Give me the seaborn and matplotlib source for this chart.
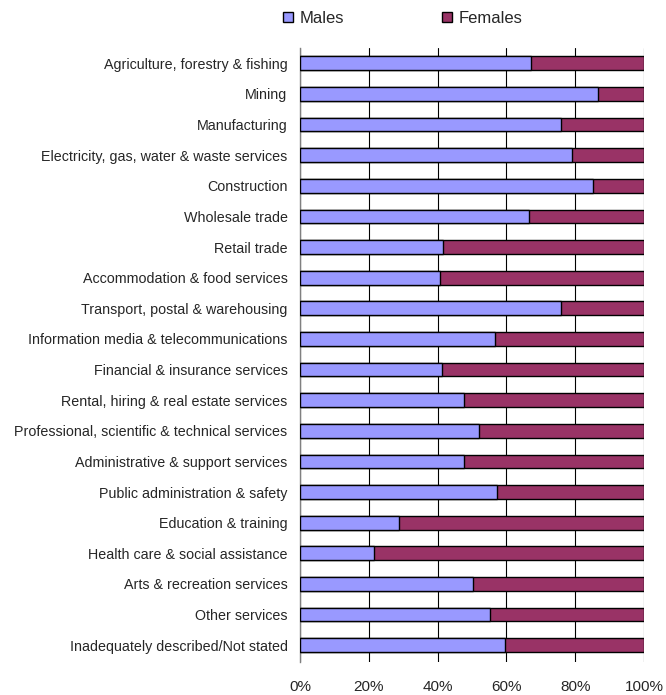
import pandas as pd
import seaborn as sns
import matplotlib.pyplot as plt

industries = [
    'Agriculture, forestry & fishing', 'Mining', 'Manufacturing',
    'Electricity, gas, water & waste services', 'Construction',
    'Wholesale trade', 'Retail trade', 'Accommodation & food services',
    'Transport, postal & warehousing', 'Information media & telecommunications',
    'Financial & insurance services', 'Rental, hiring & real estate services',
    'Professional, scientific & technical services',
    'Administrative & support services', 'Public administration & safety',
    'Education & training', 'Health care & social assistance',
    'Arts & recreation services', 'Other services',
    'Inadequately described/Not stated',
]
males = [67.0, 86.7, 75.8, 79.0, 85.2, 66.7, 41.7, 40.8, 75.8, 56.6,
         41.2, 47.7, 52.1, 47.7, 57.2, 28.8, 21.4, 50.3, 55.3, 59.5]
females = [100 - m for m in males]
x_ticks = [0, 20, 40, 60, 80, 100]
x_labels = ['0%', '20%', '40%', '60%', '80%', '100%']

MALE_COLOR = '#9999FF'
FEMALE_COLOR = '#993366'


def main():
    df = pd.DataFrame({'Industry': industries, 'Males': males, 'Females': females})
    df['Total'] = df['Males'] + df['Females']

    sns.set_style('white')
    plt.rcParams['font.family'] = ['Liberation Sans', 'DejaVu Sans']

    fig = plt.figure(figsize=(6.66, 6.95), dpi=100)
    ax = fig.add_axes([0.4505, 0.0475, 0.5165, 0.8835])

    sns.barplot(data=df, y='Industry', x='Total', color=FEMALE_COLOR,
                edgecolor='black', linewidth=1, width=0.45, saturation=1,
                label='Females', ax=ax, zorder=3)
    sns.barplot(data=df, y='Industry', x='Males', color=MALE_COLOR,
                edgecolor='black', linewidth=1, width=0.45, saturation=1,
                label='Males', ax=ax, zorder=4)

    ax.set_xlim(0, 100)
    ax.set_ylim(19.55, -0.5)
    ax.set_xticks(x_ticks)
    ax.set_xticklabels(x_labels, fontsize=11)
    ax.tick_params(axis='x', length=0, pad=13)
    ax.tick_params(axis='y', length=0, pad=9, labelsize=10.3)
    ax.set_xlabel('')
    ax.set_ylabel('')
    ax.xaxis.grid(True, color='black', linewidth=0.8, zorder=0)
    ax.set_axisbelow(True)
    for side in ['top', 'right', 'bottom']:
        ax.spines[side].set_visible(False)
    ax.spines['left'].set_color('#808080')
    ax.spines['left'].set_linewidth(1)

    handles, labels = ax.get_legend_handles_labels()
    if ax.get_legend() is not None:
        ax.get_legend().remove()
    order = [labels.index('Males'), labels.index('Females')]
    fig.legend([handles[i] for i in order], [labels[i] for i in order],
               loc='upper center', bbox_to_anchor=(0.605, 1.006), ncol=2,
               frameon=False, fontsize=12, handlelength=0.6, handleheight=0.6,
               handletextpad=0.4, columnspacing=5.9)

    fig.savefig('out.png', dpi=100)
    plt.close(fig)


if __name__ == '__main__':
    main()
